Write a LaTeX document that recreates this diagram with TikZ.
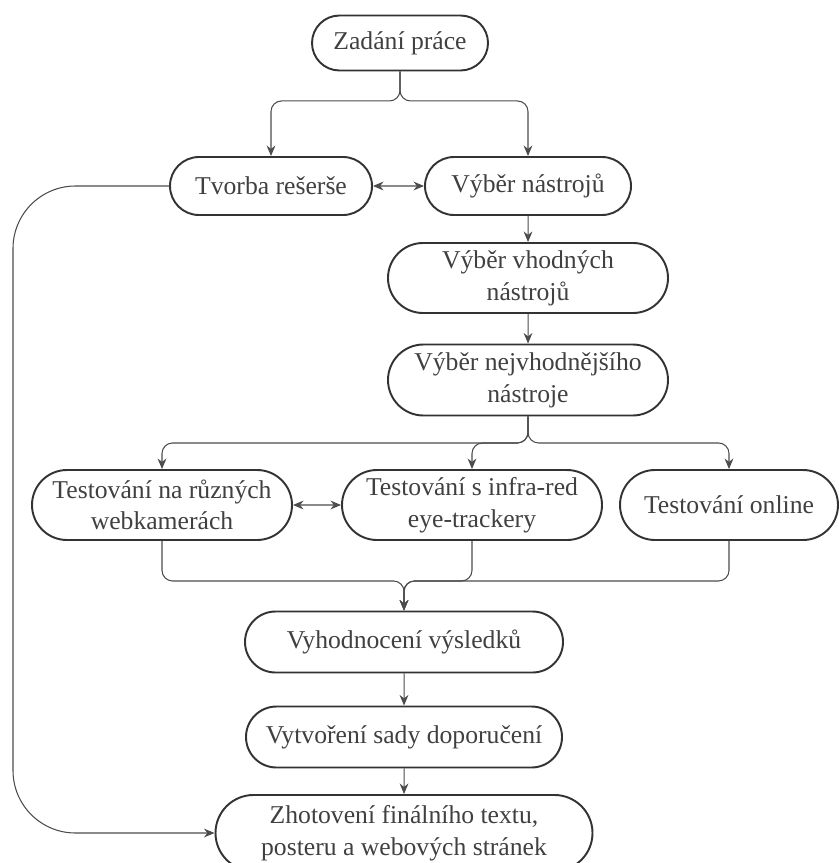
\documentclass[tikz,border=0pt]{standalone}
\usepackage{fontspec}
\setmainfont{Liberation Serif}
\usetikzlibrary{shapes.misc,arrows.meta}

\begin{document}
\begin{tikzpicture}[>={Stealth[length=6pt,width=5pt]}]
      \useasboundingbox (0,0) rectangle (16.76,-17.26);
      \begin{scope}[every node/.style={rounded rectangle,draw=black!80,line width=1.1pt,text=black!75,align=center,inner sep=0pt,font=\fontsize{14.6}{18}\selectfont}]
        \node[minimum width=3.52cm,minimum height=1.10cm] (zad) at (8.00,-0.86) {Zadání práce};
        \node[minimum width=4.04cm,minimum height=1.16cm] (tvo) at (5.42,-3.72) {Tvorba rešerše};
        \node[minimum width=4.12cm,minimum height=1.16cm] (nas) at (10.56,-3.72) {Výběr nástrojů};
        \node[minimum width=5.60cm,minimum height=1.40cm] (vho) at (10.56,-5.56) {Výběr vhodných\\nástrojů};
        \node[minimum width=5.60cm,minimum height=1.42cm] (nej) at (10.56,-7.60) {Výběr nejvhodnějšího\\nástroje};
        \node[minimum width=5.20cm,minimum height=1.40cm] (web) at (3.24,-10.10) {Testování na různých\\webkamerách};
        \node[minimum width=5.20cm,minimum height=1.40cm] (inf) at (9.44,-10.10) {Testování s infra-red\\eye-trackery};
        \node[minimum width=4.36cm,minimum height=1.40cm] (onl) at (14.58,-10.10) {Testování online};
        \node[minimum width=6.36cm,minimum height=1.22cm] (vyh) at (8.08,-12.84) {Vyhodnocení výsledků};
        \node[minimum width=6.32cm,minimum height=1.22cm] (vyt) at (8.08,-14.74) {Vytvoření sady doporučení};
        \node[minimum width=7.54cm,minimum height=1.52cm] (zho) at (8.08,-16.66) {Zhotovení finálního textu,\\posteru a webových stránek};
      \end{scope}
      \coordinate (lft) at (0.26,-3.72);
      \begin{scope}[draw=black!70,line width=0.6pt,rounded corners=6pt]
        \draw[->] (zad.south) -- ++(0,-0.59) -| (tvo.north);
        \draw[->] (zad.south) -- ++(0,-0.59) -| (nas.north);
        \draw[<->] (tvo) -- (nas);
        \draw[->,rounded corners=1.25cm] (tvo.west) -- (lft) |- (zho.west);
        \draw[->] (nas) -- (vho);
        \draw[->] (vho) -- (nej);
        \draw[->] (nej.south) -- ++(0,-0.53) -| (web.north);
        \draw[->] (nej.south) -- ++(0,-0.53) -| (inf.north);
        \draw[->] (nej.south) -- ++(0,-0.53) -| (onl.north);
        \draw[<->] (web) -- (inf);
        \draw[->] (web.south) -- ++(0,-0.80) -| (vyh.north);
        \draw[->] (inf.south) -- ++(0,-0.80) -| (vyh.north);
        \draw[->] (onl.south) -- ++(0,-0.80) -| (vyh.north);
        \draw[->] (vyh) -- (vyt);
        \draw[->] (vyt) -- (zho);
      \end{scope}
    \end{tikzpicture}
\end{document}
